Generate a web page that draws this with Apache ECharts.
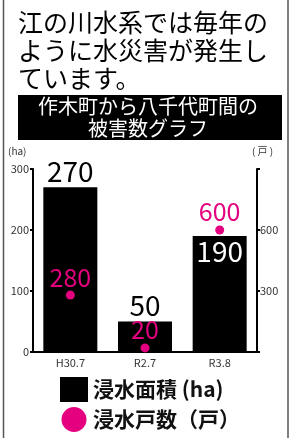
<!DOCTYPE html>
<html>
<head>
<meta charset="utf-8">
<script src="https://cdn.jsdelivr.net/npm/echarts@6/dist/echarts.min.js"></script>
<style>
html,body{margin:0;padding:0;background:#fff;}
#chart{width:303px;height:438px;}
</style>
</head>
<body>
<div id="chart"></div>
<script>
// 年度
var categories = ['H30.7', 'R2.7', 'R3.8'];
// 浸水面積 (ha)
var areaHa = [270, 50, 190];
// 浸水戸数 (戸)
var houses = [280, 20, 600];

var pink = '#e4007f';
var font = '"Noto Sans CJK JP", "Noto Sans", sans-serif';

var chart = echarts.init(document.getElementById('chart'));

// 3本目だけラベルを棒の中に白で
var barData = areaHa.map(function (v, i) {
    if (i == 2) {
        return { value: v, label: { position: 'insideTop', color: '#fff', distance: 1 } };
    }
    return v;
});

chart.setOption({
    textStyle: { fontFamily: font },
    animation: false,
    grid: { left: 33, right: 46, top: 169, bottom: 86, containLabel: false },
    legend: {
        orient: 'vertical',
        left: 55,
        top: 372,
        itemWidth: 28,
        itemHeight: 25,
        itemGap: 5,
        selectedMode: false,
        textStyle: { fontSize: 21, fontWeight: 'bold', color: '#111', fontFamily: font },
        data: [
            { name: '浸水面積 (ha)', icon: 'rect' },
            { name: '浸水戸数（戸）', icon: 'circle' }
        ]
    },
    xAxis: {
        type: 'category',
        data: categories,
        axisLine: { lineStyle: { color: '#000', width: 2 } },
        axisTick: { inside: true, length: 3, lineStyle: { color: '#000', width: 2 } },
        axisLabel: { color: '#333', fontSize: 11, margin: 5 }
    },
    yAxis: [
        {
            type: 'value', min: 0, max: 300, interval: 100,
            splitLine: { show: false },
            axisLine: { show: true, lineStyle: { color: '#000', width: 2 } },
            axisTick: { show: true, length: 3, lineStyle: { color: '#000', width: 2 } },
            axisLabel: { color: '#333', fontSize: 11, margin: 4 }
        },
        {
            type: 'value', min: 0, max: 900, interval: 300, position: 'right',
            splitLine: { show: false },
            axisLine: { show: true, lineStyle: { color: '#000', width: 2 } },
            axisTick: { show: true, length: 3, lineStyle: { color: '#000', width: 2 } },
            axisLabel: {
                color: '#333', fontSize: 11, margin: 3,
                formatter: function (v) { return (v == 0 || v == 900) ? '' : v; }
            }
        }
    ],
    series: [
        {
            name: '浸水面積 (ha)',
            type: 'bar',
            barWidth: 54,
            data: barData,
            itemStyle: { color: '#000' },
            label: { show: true, position: 'top', distance: 2, fontSize: 28, color: '#000' }
        },
        {
            name: '浸水戸数（戸）',
            type: 'scatter',
            yAxisIndex: 1,
            symbolSize: 9,
            data: houses,
            itemStyle: { color: pink, opacity: 1 },
            label: { show: true, position: 'top', distance: 1, fontSize: 25, color: pink },
            z: 5
        }
    ],
    graphic: [
        { type: 'line', shape: { x1: 3.5, y1: 0, x2: 3.5, y2: 438 }, style: { stroke: '#555', lineWidth: 1.5 } },
        { type: 'line', shape: { x1: 288, y1: 0, x2: 288, y2: 438 }, style: { stroke: '#555', lineWidth: 1.5 } },
        {
            type: 'text', left: 18, top: 8,
            style: {
                text: '江の川水系では毎年の\nように水災害が発生し\nています。',
                font: '25px ' + font, fill: '#000', lineHeight: 28
            }
        },
        { type: 'rect', shape: { x: 18, y: 95, width: 264, height: 45 }, style: { fill: '#000' } },
        {
            type: 'text', x: 148, y: 95,
            style: {
                text: '作木町から八千代町間の\n被害数グラフ',
                font: '20px ' + font, fill: '#fff', lineHeight: 22, align: 'center', verticalAlign: 'top'
            }
        },
        { type: 'text', x: 8, y: 146, style: { text: '(ha)', font: '10px ' + font, fill: '#333' } },
        { type: 'text', x: 252, y: 146, style: { text: '( 戸 )', font: '10px ' + font, fill: '#333' } }
    ]
});
</script>
</body>
</html>
